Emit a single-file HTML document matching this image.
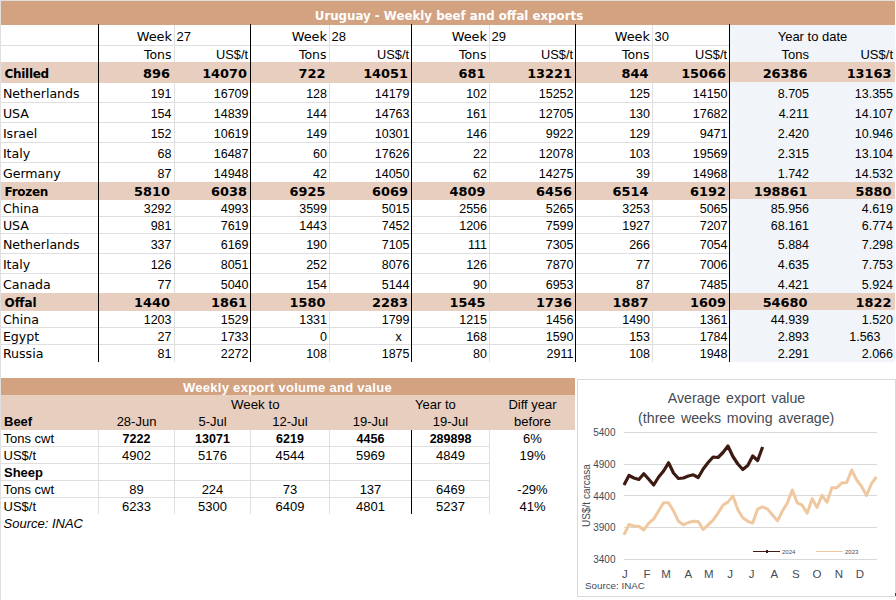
<!DOCTYPE html>
<html><head><meta charset="utf-8"><title>Uruguay - Weekly beef and offal exports</title>
<style>html,body{margin:0;padding:0;background:#fff;}svg{display:block;}</style></head>
<body><svg width="896" height="600" viewBox="0 0 896 600" shape-rendering="crispEdges">
<rect x="0" y="0" width="896" height="600" fill="#fff"/>
<rect x="0" y="0" width="1" height="600" fill="#DFDFDF"/>
<rect x="0" y="0" width="896" height="1" fill="#DFDFDF"/>
<rect x="1" y="1" width="894" height="24" fill="#D2A281"/>
<text x="449" y="20" text-anchor="middle" fill="#fff" style="font-family:'DejaVu Sans', sans-serif;font-size:11.8px;font-weight:700;">Uruguay - Weekly beef and offal exports</text>
<rect x="730" y="25" width="165" height="337" fill="#F1F5FA"/>
<rect x="1" y="45" width="728" height="1" fill="#DFDFDF"/>
<rect x="1" y="102" width="728" height="1" fill="#DFDFDF"/>
<rect x="1" y="122" width="728" height="1" fill="#DFDFDF"/>
<rect x="1" y="142" width="728" height="1" fill="#DFDFDF"/>
<rect x="1" y="162" width="728" height="1" fill="#DFDFDF"/>
<rect x="1" y="216" width="728" height="1" fill="#DFDFDF"/>
<rect x="1" y="233" width="728" height="1" fill="#DFDFDF"/>
<rect x="1" y="253" width="728" height="1" fill="#DFDFDF"/>
<rect x="1" y="273" width="728" height="1" fill="#DFDFDF"/>
<rect x="1" y="327" width="728" height="1" fill="#DFDFDF"/>
<rect x="1" y="344" width="728" height="1" fill="#DFDFDF"/>
<rect x="174" y="25" width="1" height="337" fill="#DFDFDF"/>
<rect x="329" y="25" width="1" height="337" fill="#DFDFDF"/>
<rect x="489" y="25" width="1" height="337" fill="#DFDFDF"/>
<rect x="652" y="25" width="1" height="337" fill="#DFDFDF"/>
<rect x="1" y="62" width="729" height="21" fill="#E8CEBF"/>
<rect x="730" y="62" width="165" height="20" fill="#E8CEBF"/>
<rect x="1" y="182" width="729" height="18" fill="#E8CEBF"/>
<rect x="730" y="182" width="165" height="17" fill="#E8CEBF"/>
<rect x="1" y="293" width="729" height="18" fill="#E8CEBF"/>
<rect x="730" y="293" width="165" height="17" fill="#E8CEBF"/>
<rect x="98" y="24" width="1" height="338" fill="#000"/>
<rect x="250" y="24" width="1" height="338" fill="#000"/>
<rect x="411" y="24" width="1" height="338" fill="#000"/>
<rect x="575" y="24" width="1" height="338" fill="#000"/>
<rect x="729" y="24" width="1" height="338" fill="#000"/>
<text x="172" y="41" text-anchor="end" fill="#000" style="font-family:'DejaVu Sans', sans-serif;font-size:12.9px;">Week</text>
<text x="176.6" y="41" text-anchor="start" fill="#000" style="font-family:'Liberation Sans', Arial, sans-serif;font-size:13px;">27</text>
<text x="171.5" y="59" text-anchor="end" fill="#000" style="font-family:'DejaVu Sans', sans-serif;font-size:12.5px;">Tons</text>
<text x="248" y="59" text-anchor="end" fill="#000" style="font-family:'Liberation Sans', Arial, sans-serif;font-size:12.8px;">US$/t</text>
<text x="327" y="41" text-anchor="end" fill="#000" style="font-family:'DejaVu Sans', sans-serif;font-size:12.9px;">Week</text>
<text x="331.6" y="41" text-anchor="start" fill="#000" style="font-family:'Liberation Sans', Arial, sans-serif;font-size:13px;">28</text>
<text x="326.5" y="59" text-anchor="end" fill="#000" style="font-family:'DejaVu Sans', sans-serif;font-size:12.5px;">Tons</text>
<text x="409" y="59" text-anchor="end" fill="#000" style="font-family:'Liberation Sans', Arial, sans-serif;font-size:12.8px;">US$/t</text>
<text x="487" y="41" text-anchor="end" fill="#000" style="font-family:'DejaVu Sans', sans-serif;font-size:12.9px;">Week</text>
<text x="491.6" y="41" text-anchor="start" fill="#000" style="font-family:'Liberation Sans', Arial, sans-serif;font-size:13px;">29</text>
<text x="486.5" y="59" text-anchor="end" fill="#000" style="font-family:'DejaVu Sans', sans-serif;font-size:12.5px;">Tons</text>
<text x="573" y="59" text-anchor="end" fill="#000" style="font-family:'Liberation Sans', Arial, sans-serif;font-size:12.8px;">US$/t</text>
<text x="650" y="41" text-anchor="end" fill="#000" style="font-family:'DejaVu Sans', sans-serif;font-size:12.9px;">Week</text>
<text x="654.6" y="41" text-anchor="start" fill="#000" style="font-family:'Liberation Sans', Arial, sans-serif;font-size:13px;">30</text>
<text x="649.5" y="59" text-anchor="end" fill="#000" style="font-family:'DejaVu Sans', sans-serif;font-size:12.5px;">Tons</text>
<text x="727" y="59" text-anchor="end" fill="#000" style="font-family:'Liberation Sans', Arial, sans-serif;font-size:12.8px;">US$/t</text>
<text x="812.5" y="41" text-anchor="middle" fill="#000" style="font-family:'Liberation Sans', Arial, sans-serif;font-size:13px;">Year to date</text>
<text x="809" y="59" text-anchor="end" fill="#000" style="font-family:'Liberation Sans', Arial, sans-serif;font-size:13px;">Tons</text>
<text x="893" y="59" text-anchor="end" fill="#000" style="font-family:'Liberation Sans', Arial, sans-serif;font-size:13px;">US$/t</text>
<text x="4.5" y="78" text-anchor="start" fill="#000" style="font-family:'DejaVu Sans', sans-serif;font-size:12px;font-weight:700;letter-spacing:-0.3px;">Chilled</text>
<text x="170.0" y="78" text-anchor="end" fill="#000" style="font-family:'DejaVu Sans', sans-serif;font-size:12.9px;font-weight:700;">896</text>
<text x="247.0" y="78" text-anchor="end" fill="#000" style="font-family:'DejaVu Sans', sans-serif;font-size:12.9px;font-weight:700;">14070</text>
<text x="325.5" y="78" text-anchor="end" fill="#000" style="font-family:'DejaVu Sans', sans-serif;font-size:12.9px;font-weight:700;">722</text>
<text x="408.0" y="78" text-anchor="end" fill="#000" style="font-family:'DejaVu Sans', sans-serif;font-size:12.9px;font-weight:700;">14051</text>
<text x="485.5" y="78" text-anchor="end" fill="#000" style="font-family:'DejaVu Sans', sans-serif;font-size:12.9px;font-weight:700;">681</text>
<text x="572.0" y="78" text-anchor="end" fill="#000" style="font-family:'DejaVu Sans', sans-serif;font-size:12.9px;font-weight:700;">13221</text>
<text x="648.5" y="78" text-anchor="end" fill="#000" style="font-family:'DejaVu Sans', sans-serif;font-size:12.9px;font-weight:700;">844</text>
<text x="726.0" y="78" text-anchor="end" fill="#000" style="font-family:'DejaVu Sans', sans-serif;font-size:12.9px;font-weight:700;">15066</text>
<text x="807.5" y="78" text-anchor="end" fill="#000" style="font-family:'DejaVu Sans', sans-serif;font-size:12.9px;font-weight:700;">26386</text>
<text x="891.5" y="78" text-anchor="end" fill="#000" style="font-family:'DejaVu Sans', sans-serif;font-size:12.9px;font-weight:700;">13163</text>
<text x="2.9" y="98" text-anchor="start" fill="#000" style="font-family:'DejaVu Sans', sans-serif;font-size:12.6px;">Netherlands</text>
<text x="171.5" y="98" text-anchor="end" fill="#000" style="font-family:'Liberation Sans', Arial, sans-serif;font-size:12.5px;">191</text>
<text x="248.5" y="98" text-anchor="end" fill="#000" style="font-family:'Liberation Sans', Arial, sans-serif;font-size:12.5px;">16709</text>
<text x="327" y="98" text-anchor="end" fill="#000" style="font-family:'Liberation Sans', Arial, sans-serif;font-size:12.5px;">128</text>
<text x="409.5" y="98" text-anchor="end" fill="#000" style="font-family:'Liberation Sans', Arial, sans-serif;font-size:12.5px;">14179</text>
<text x="487" y="98" text-anchor="end" fill="#000" style="font-family:'Liberation Sans', Arial, sans-serif;font-size:12.5px;">102</text>
<text x="573.5" y="98" text-anchor="end" fill="#000" style="font-family:'Liberation Sans', Arial, sans-serif;font-size:12.5px;">15252</text>
<text x="650" y="98" text-anchor="end" fill="#000" style="font-family:'Liberation Sans', Arial, sans-serif;font-size:12.5px;">125</text>
<text x="727.5" y="98" text-anchor="end" fill="#000" style="font-family:'Liberation Sans', Arial, sans-serif;font-size:12.5px;">14150</text>
<text x="809" y="98" text-anchor="end" fill="#000" style="font-family:'Liberation Sans', Arial, sans-serif;font-size:12.5px;">8.705</text>
<text x="893" y="98" text-anchor="end" fill="#000" style="font-family:'Liberation Sans', Arial, sans-serif;font-size:12.5px;">13.355</text>
<text x="2.9" y="118" text-anchor="start" fill="#000" style="font-family:'DejaVu Sans', sans-serif;font-size:12.6px;">USA</text>
<text x="171.5" y="118" text-anchor="end" fill="#000" style="font-family:'Liberation Sans', Arial, sans-serif;font-size:12.5px;">154</text>
<text x="248.5" y="118" text-anchor="end" fill="#000" style="font-family:'Liberation Sans', Arial, sans-serif;font-size:12.5px;">14839</text>
<text x="327" y="118" text-anchor="end" fill="#000" style="font-family:'Liberation Sans', Arial, sans-serif;font-size:12.5px;">144</text>
<text x="409.5" y="118" text-anchor="end" fill="#000" style="font-family:'Liberation Sans', Arial, sans-serif;font-size:12.5px;">14763</text>
<text x="487" y="118" text-anchor="end" fill="#000" style="font-family:'Liberation Sans', Arial, sans-serif;font-size:12.5px;">161</text>
<text x="573.5" y="118" text-anchor="end" fill="#000" style="font-family:'Liberation Sans', Arial, sans-serif;font-size:12.5px;">12705</text>
<text x="650" y="118" text-anchor="end" fill="#000" style="font-family:'Liberation Sans', Arial, sans-serif;font-size:12.5px;">130</text>
<text x="727.5" y="118" text-anchor="end" fill="#000" style="font-family:'Liberation Sans', Arial, sans-serif;font-size:12.5px;">17682</text>
<text x="809" y="118" text-anchor="end" fill="#000" style="font-family:'Liberation Sans', Arial, sans-serif;font-size:12.5px;">4.211</text>
<text x="893" y="118" text-anchor="end" fill="#000" style="font-family:'Liberation Sans', Arial, sans-serif;font-size:12.5px;">14.107</text>
<text x="2.9" y="138" text-anchor="start" fill="#000" style="font-family:'DejaVu Sans', sans-serif;font-size:12.6px;">Israel</text>
<text x="171.5" y="138" text-anchor="end" fill="#000" style="font-family:'Liberation Sans', Arial, sans-serif;font-size:12.5px;">152</text>
<text x="248.5" y="138" text-anchor="end" fill="#000" style="font-family:'Liberation Sans', Arial, sans-serif;font-size:12.5px;">10619</text>
<text x="327" y="138" text-anchor="end" fill="#000" style="font-family:'Liberation Sans', Arial, sans-serif;font-size:12.5px;">149</text>
<text x="409.5" y="138" text-anchor="end" fill="#000" style="font-family:'Liberation Sans', Arial, sans-serif;font-size:12.5px;">10301</text>
<text x="487" y="138" text-anchor="end" fill="#000" style="font-family:'Liberation Sans', Arial, sans-serif;font-size:12.5px;">146</text>
<text x="573.5" y="138" text-anchor="end" fill="#000" style="font-family:'Liberation Sans', Arial, sans-serif;font-size:12.5px;">9922</text>
<text x="650" y="138" text-anchor="end" fill="#000" style="font-family:'Liberation Sans', Arial, sans-serif;font-size:12.5px;">129</text>
<text x="727.5" y="138" text-anchor="end" fill="#000" style="font-family:'Liberation Sans', Arial, sans-serif;font-size:12.5px;">9471</text>
<text x="809" y="138" text-anchor="end" fill="#000" style="font-family:'Liberation Sans', Arial, sans-serif;font-size:12.5px;">2.420</text>
<text x="893" y="138" text-anchor="end" fill="#000" style="font-family:'Liberation Sans', Arial, sans-serif;font-size:12.5px;">10.946</text>
<text x="2.9" y="158" text-anchor="start" fill="#000" style="font-family:'DejaVu Sans', sans-serif;font-size:12.6px;">Italy</text>
<text x="171.5" y="158" text-anchor="end" fill="#000" style="font-family:'Liberation Sans', Arial, sans-serif;font-size:12.5px;">68</text>
<text x="248.5" y="158" text-anchor="end" fill="#000" style="font-family:'Liberation Sans', Arial, sans-serif;font-size:12.5px;">16487</text>
<text x="327" y="158" text-anchor="end" fill="#000" style="font-family:'Liberation Sans', Arial, sans-serif;font-size:12.5px;">60</text>
<text x="409.5" y="158" text-anchor="end" fill="#000" style="font-family:'Liberation Sans', Arial, sans-serif;font-size:12.5px;">17626</text>
<text x="487" y="158" text-anchor="end" fill="#000" style="font-family:'Liberation Sans', Arial, sans-serif;font-size:12.5px;">22</text>
<text x="573.5" y="158" text-anchor="end" fill="#000" style="font-family:'Liberation Sans', Arial, sans-serif;font-size:12.5px;">12078</text>
<text x="650" y="158" text-anchor="end" fill="#000" style="font-family:'Liberation Sans', Arial, sans-serif;font-size:12.5px;">103</text>
<text x="727.5" y="158" text-anchor="end" fill="#000" style="font-family:'Liberation Sans', Arial, sans-serif;font-size:12.5px;">19569</text>
<text x="809" y="158" text-anchor="end" fill="#000" style="font-family:'Liberation Sans', Arial, sans-serif;font-size:12.5px;">2.315</text>
<text x="893" y="158" text-anchor="end" fill="#000" style="font-family:'Liberation Sans', Arial, sans-serif;font-size:12.5px;">13.104</text>
<text x="2.9" y="178" text-anchor="start" fill="#000" style="font-family:'DejaVu Sans', sans-serif;font-size:12.6px;">Germany</text>
<text x="171.5" y="178" text-anchor="end" fill="#000" style="font-family:'Liberation Sans', Arial, sans-serif;font-size:12.5px;">87</text>
<text x="248.5" y="178" text-anchor="end" fill="#000" style="font-family:'Liberation Sans', Arial, sans-serif;font-size:12.5px;">14948</text>
<text x="327" y="178" text-anchor="end" fill="#000" style="font-family:'Liberation Sans', Arial, sans-serif;font-size:12.5px;">42</text>
<text x="409.5" y="178" text-anchor="end" fill="#000" style="font-family:'Liberation Sans', Arial, sans-serif;font-size:12.5px;">14050</text>
<text x="487" y="178" text-anchor="end" fill="#000" style="font-family:'Liberation Sans', Arial, sans-serif;font-size:12.5px;">62</text>
<text x="573.5" y="178" text-anchor="end" fill="#000" style="font-family:'Liberation Sans', Arial, sans-serif;font-size:12.5px;">14275</text>
<text x="650" y="178" text-anchor="end" fill="#000" style="font-family:'Liberation Sans', Arial, sans-serif;font-size:12.5px;">39</text>
<text x="727.5" y="178" text-anchor="end" fill="#000" style="font-family:'Liberation Sans', Arial, sans-serif;font-size:12.5px;">14968</text>
<text x="809" y="178" text-anchor="end" fill="#000" style="font-family:'Liberation Sans', Arial, sans-serif;font-size:12.5px;">1.742</text>
<text x="893" y="178" text-anchor="end" fill="#000" style="font-family:'Liberation Sans', Arial, sans-serif;font-size:12.5px;">14.532</text>
<text x="4.5" y="196" text-anchor="start" fill="#000" style="font-family:'DejaVu Sans', sans-serif;font-size:12px;font-weight:700;letter-spacing:-0.28px;">Frozen</text>
<text x="170.0" y="196" text-anchor="end" fill="#000" style="font-family:'DejaVu Sans', sans-serif;font-size:12.9px;font-weight:700;">5810</text>
<text x="247.0" y="196" text-anchor="end" fill="#000" style="font-family:'DejaVu Sans', sans-serif;font-size:12.9px;font-weight:700;">6038</text>
<text x="325.5" y="196" text-anchor="end" fill="#000" style="font-family:'DejaVu Sans', sans-serif;font-size:12.9px;font-weight:700;">6925</text>
<text x="408.0" y="196" text-anchor="end" fill="#000" style="font-family:'DejaVu Sans', sans-serif;font-size:12.9px;font-weight:700;">6069</text>
<text x="485.5" y="196" text-anchor="end" fill="#000" style="font-family:'DejaVu Sans', sans-serif;font-size:12.9px;font-weight:700;">4809</text>
<text x="572.0" y="196" text-anchor="end" fill="#000" style="font-family:'DejaVu Sans', sans-serif;font-size:12.9px;font-weight:700;">6456</text>
<text x="648.5" y="196" text-anchor="end" fill="#000" style="font-family:'DejaVu Sans', sans-serif;font-size:12.9px;font-weight:700;">6514</text>
<text x="726.0" y="196" text-anchor="end" fill="#000" style="font-family:'DejaVu Sans', sans-serif;font-size:12.9px;font-weight:700;">6192</text>
<text x="807.5" y="196" text-anchor="end" fill="#000" style="font-family:'DejaVu Sans', sans-serif;font-size:12.9px;font-weight:700;">198861</text>
<text x="891.5" y="196" text-anchor="end" fill="#000" style="font-family:'DejaVu Sans', sans-serif;font-size:12.9px;font-weight:700;">5880</text>
<text x="2.9" y="213" text-anchor="start" fill="#000" style="font-family:'DejaVu Sans', sans-serif;font-size:12.6px;">China</text>
<text x="171.5" y="213" text-anchor="end" fill="#000" style="font-family:'Liberation Sans', Arial, sans-serif;font-size:12.5px;">3292</text>
<text x="248.5" y="213" text-anchor="end" fill="#000" style="font-family:'Liberation Sans', Arial, sans-serif;font-size:12.5px;">4993</text>
<text x="327" y="213" text-anchor="end" fill="#000" style="font-family:'Liberation Sans', Arial, sans-serif;font-size:12.5px;">3599</text>
<text x="409.5" y="213" text-anchor="end" fill="#000" style="font-family:'Liberation Sans', Arial, sans-serif;font-size:12.5px;">5015</text>
<text x="487" y="213" text-anchor="end" fill="#000" style="font-family:'Liberation Sans', Arial, sans-serif;font-size:12.5px;">2556</text>
<text x="573.5" y="213" text-anchor="end" fill="#000" style="font-family:'Liberation Sans', Arial, sans-serif;font-size:12.5px;">5265</text>
<text x="650" y="213" text-anchor="end" fill="#000" style="font-family:'Liberation Sans', Arial, sans-serif;font-size:12.5px;">3253</text>
<text x="727.5" y="213" text-anchor="end" fill="#000" style="font-family:'Liberation Sans', Arial, sans-serif;font-size:12.5px;">5065</text>
<text x="809" y="213" text-anchor="end" fill="#000" style="font-family:'Liberation Sans', Arial, sans-serif;font-size:12.5px;">85.956</text>
<text x="893" y="213" text-anchor="end" fill="#000" style="font-family:'Liberation Sans', Arial, sans-serif;font-size:12.5px;">4.619</text>
<text x="2.9" y="230" text-anchor="start" fill="#000" style="font-family:'DejaVu Sans', sans-serif;font-size:12.6px;">USA</text>
<text x="171.5" y="230" text-anchor="end" fill="#000" style="font-family:'Liberation Sans', Arial, sans-serif;font-size:12.5px;">981</text>
<text x="248.5" y="230" text-anchor="end" fill="#000" style="font-family:'Liberation Sans', Arial, sans-serif;font-size:12.5px;">7619</text>
<text x="327" y="230" text-anchor="end" fill="#000" style="font-family:'Liberation Sans', Arial, sans-serif;font-size:12.5px;">1443</text>
<text x="409.5" y="230" text-anchor="end" fill="#000" style="font-family:'Liberation Sans', Arial, sans-serif;font-size:12.5px;">7452</text>
<text x="487" y="230" text-anchor="end" fill="#000" style="font-family:'Liberation Sans', Arial, sans-serif;font-size:12.5px;">1206</text>
<text x="573.5" y="230" text-anchor="end" fill="#000" style="font-family:'Liberation Sans', Arial, sans-serif;font-size:12.5px;">7599</text>
<text x="650" y="230" text-anchor="end" fill="#000" style="font-family:'Liberation Sans', Arial, sans-serif;font-size:12.5px;">1927</text>
<text x="727.5" y="230" text-anchor="end" fill="#000" style="font-family:'Liberation Sans', Arial, sans-serif;font-size:12.5px;">7207</text>
<text x="809" y="230" text-anchor="end" fill="#000" style="font-family:'Liberation Sans', Arial, sans-serif;font-size:12.5px;">68.161</text>
<text x="893" y="230" text-anchor="end" fill="#000" style="font-family:'Liberation Sans', Arial, sans-serif;font-size:12.5px;">6.774</text>
<text x="2.9" y="249" text-anchor="start" fill="#000" style="font-family:'DejaVu Sans', sans-serif;font-size:12.6px;">Netherlands</text>
<text x="171.5" y="249" text-anchor="end" fill="#000" style="font-family:'Liberation Sans', Arial, sans-serif;font-size:12.5px;">337</text>
<text x="248.5" y="249" text-anchor="end" fill="#000" style="font-family:'Liberation Sans', Arial, sans-serif;font-size:12.5px;">6169</text>
<text x="327" y="249" text-anchor="end" fill="#000" style="font-family:'Liberation Sans', Arial, sans-serif;font-size:12.5px;">190</text>
<text x="409.5" y="249" text-anchor="end" fill="#000" style="font-family:'Liberation Sans', Arial, sans-serif;font-size:12.5px;">7105</text>
<text x="487" y="249" text-anchor="end" fill="#000" style="font-family:'Liberation Sans', Arial, sans-serif;font-size:12.5px;">111</text>
<text x="573.5" y="249" text-anchor="end" fill="#000" style="font-family:'Liberation Sans', Arial, sans-serif;font-size:12.5px;">7305</text>
<text x="650" y="249" text-anchor="end" fill="#000" style="font-family:'Liberation Sans', Arial, sans-serif;font-size:12.5px;">266</text>
<text x="727.5" y="249" text-anchor="end" fill="#000" style="font-family:'Liberation Sans', Arial, sans-serif;font-size:12.5px;">7054</text>
<text x="809" y="249" text-anchor="end" fill="#000" style="font-family:'Liberation Sans', Arial, sans-serif;font-size:12.5px;">5.884</text>
<text x="893" y="249" text-anchor="end" fill="#000" style="font-family:'Liberation Sans', Arial, sans-serif;font-size:12.5px;">7.298</text>
<text x="2.9" y="269" text-anchor="start" fill="#000" style="font-family:'DejaVu Sans', sans-serif;font-size:12.6px;">Italy</text>
<text x="171.5" y="269" text-anchor="end" fill="#000" style="font-family:'Liberation Sans', Arial, sans-serif;font-size:12.5px;">126</text>
<text x="248.5" y="269" text-anchor="end" fill="#000" style="font-family:'Liberation Sans', Arial, sans-serif;font-size:12.5px;">8051</text>
<text x="327" y="269" text-anchor="end" fill="#000" style="font-family:'Liberation Sans', Arial, sans-serif;font-size:12.5px;">252</text>
<text x="409.5" y="269" text-anchor="end" fill="#000" style="font-family:'Liberation Sans', Arial, sans-serif;font-size:12.5px;">8076</text>
<text x="487" y="269" text-anchor="end" fill="#000" style="font-family:'Liberation Sans', Arial, sans-serif;font-size:12.5px;">126</text>
<text x="573.5" y="269" text-anchor="end" fill="#000" style="font-family:'Liberation Sans', Arial, sans-serif;font-size:12.5px;">7870</text>
<text x="650" y="269" text-anchor="end" fill="#000" style="font-family:'Liberation Sans', Arial, sans-serif;font-size:12.5px;">77</text>
<text x="727.5" y="269" text-anchor="end" fill="#000" style="font-family:'Liberation Sans', Arial, sans-serif;font-size:12.5px;">7006</text>
<text x="809" y="269" text-anchor="end" fill="#000" style="font-family:'Liberation Sans', Arial, sans-serif;font-size:12.5px;">4.635</text>
<text x="893" y="269" text-anchor="end" fill="#000" style="font-family:'Liberation Sans', Arial, sans-serif;font-size:12.5px;">7.753</text>
<text x="2.9" y="289" text-anchor="start" fill="#000" style="font-family:'DejaVu Sans', sans-serif;font-size:12.6px;">Canada</text>
<text x="171.5" y="289" text-anchor="end" fill="#000" style="font-family:'Liberation Sans', Arial, sans-serif;font-size:12.5px;">77</text>
<text x="248.5" y="289" text-anchor="end" fill="#000" style="font-family:'Liberation Sans', Arial, sans-serif;font-size:12.5px;">5040</text>
<text x="327" y="289" text-anchor="end" fill="#000" style="font-family:'Liberation Sans', Arial, sans-serif;font-size:12.5px;">154</text>
<text x="409.5" y="289" text-anchor="end" fill="#000" style="font-family:'Liberation Sans', Arial, sans-serif;font-size:12.5px;">5144</text>
<text x="487" y="289" text-anchor="end" fill="#000" style="font-family:'Liberation Sans', Arial, sans-serif;font-size:12.5px;">90</text>
<text x="573.5" y="289" text-anchor="end" fill="#000" style="font-family:'Liberation Sans', Arial, sans-serif;font-size:12.5px;">6953</text>
<text x="650" y="289" text-anchor="end" fill="#000" style="font-family:'Liberation Sans', Arial, sans-serif;font-size:12.5px;">87</text>
<text x="727.5" y="289" text-anchor="end" fill="#000" style="font-family:'Liberation Sans', Arial, sans-serif;font-size:12.5px;">7485</text>
<text x="809" y="289" text-anchor="end" fill="#000" style="font-family:'Liberation Sans', Arial, sans-serif;font-size:12.5px;">4.421</text>
<text x="893" y="289" text-anchor="end" fill="#000" style="font-family:'Liberation Sans', Arial, sans-serif;font-size:12.5px;">5.924</text>
<text x="4.5" y="307" text-anchor="start" fill="#000" style="font-family:'DejaVu Sans', sans-serif;font-size:12px;font-weight:700;letter-spacing:0px;">Offal</text>
<text x="170.0" y="307" text-anchor="end" fill="#000" style="font-family:'DejaVu Sans', sans-serif;font-size:12.9px;font-weight:700;">1440</text>
<text x="247.0" y="307" text-anchor="end" fill="#000" style="font-family:'DejaVu Sans', sans-serif;font-size:12.9px;font-weight:700;">1861</text>
<text x="325.5" y="307" text-anchor="end" fill="#000" style="font-family:'DejaVu Sans', sans-serif;font-size:12.9px;font-weight:700;">1580</text>
<text x="408.0" y="307" text-anchor="end" fill="#000" style="font-family:'DejaVu Sans', sans-serif;font-size:12.9px;font-weight:700;">2283</text>
<text x="485.5" y="307" text-anchor="end" fill="#000" style="font-family:'DejaVu Sans', sans-serif;font-size:12.9px;font-weight:700;">1545</text>
<text x="572.0" y="307" text-anchor="end" fill="#000" style="font-family:'DejaVu Sans', sans-serif;font-size:12.9px;font-weight:700;">1736</text>
<text x="648.5" y="307" text-anchor="end" fill="#000" style="font-family:'DejaVu Sans', sans-serif;font-size:12.9px;font-weight:700;">1887</text>
<text x="726.0" y="307" text-anchor="end" fill="#000" style="font-family:'DejaVu Sans', sans-serif;font-size:12.9px;font-weight:700;">1609</text>
<text x="807.5" y="307" text-anchor="end" fill="#000" style="font-family:'DejaVu Sans', sans-serif;font-size:12.9px;font-weight:700;">54680</text>
<text x="891.5" y="307" text-anchor="end" fill="#000" style="font-family:'DejaVu Sans', sans-serif;font-size:12.9px;font-weight:700;">1822</text>
<text x="2.9" y="324" text-anchor="start" fill="#000" style="font-family:'DejaVu Sans', sans-serif;font-size:12.6px;">China</text>
<text x="171.5" y="324" text-anchor="end" fill="#000" style="font-family:'Liberation Sans', Arial, sans-serif;font-size:12.5px;">1203</text>
<text x="248.5" y="324" text-anchor="end" fill="#000" style="font-family:'Liberation Sans', Arial, sans-serif;font-size:12.5px;">1529</text>
<text x="327" y="324" text-anchor="end" fill="#000" style="font-family:'Liberation Sans', Arial, sans-serif;font-size:12.5px;">1331</text>
<text x="409.5" y="324" text-anchor="end" fill="#000" style="font-family:'Liberation Sans', Arial, sans-serif;font-size:12.5px;">1799</text>
<text x="487" y="324" text-anchor="end" fill="#000" style="font-family:'Liberation Sans', Arial, sans-serif;font-size:12.5px;">1215</text>
<text x="573.5" y="324" text-anchor="end" fill="#000" style="font-family:'Liberation Sans', Arial, sans-serif;font-size:12.5px;">1456</text>
<text x="650" y="324" text-anchor="end" fill="#000" style="font-family:'Liberation Sans', Arial, sans-serif;font-size:12.5px;">1490</text>
<text x="727.5" y="324" text-anchor="end" fill="#000" style="font-family:'Liberation Sans', Arial, sans-serif;font-size:12.5px;">1361</text>
<text x="809" y="324" text-anchor="end" fill="#000" style="font-family:'Liberation Sans', Arial, sans-serif;font-size:12.5px;">44.939</text>
<text x="893" y="324" text-anchor="end" fill="#000" style="font-family:'Liberation Sans', Arial, sans-serif;font-size:12.5px;">1.520</text>
<text x="2.9" y="341" text-anchor="start" fill="#000" style="font-family:'DejaVu Sans', sans-serif;font-size:12.6px;">Egypt</text>
<text x="171.5" y="341" text-anchor="end" fill="#000" style="font-family:'Liberation Sans', Arial, sans-serif;font-size:12.5px;">27</text>
<text x="248.5" y="341" text-anchor="end" fill="#000" style="font-family:'Liberation Sans', Arial, sans-serif;font-size:12.5px;">1733</text>
<text x="327" y="341" text-anchor="end" fill="#000" style="font-family:'Liberation Sans', Arial, sans-serif;font-size:12.5px;">0</text>
<text x="401.8" y="341" text-anchor="end" fill="#000" style="font-family:'Liberation Sans', Arial, sans-serif;font-size:12.5px;">x</text>
<text x="487" y="341" text-anchor="end" fill="#000" style="font-family:'Liberation Sans', Arial, sans-serif;font-size:12.5px;">168</text>
<text x="573.5" y="341" text-anchor="end" fill="#000" style="font-family:'Liberation Sans', Arial, sans-serif;font-size:12.5px;">1590</text>
<text x="650" y="341" text-anchor="end" fill="#000" style="font-family:'Liberation Sans', Arial, sans-serif;font-size:12.5px;">153</text>
<text x="727.5" y="341" text-anchor="end" fill="#000" style="font-family:'Liberation Sans', Arial, sans-serif;font-size:12.5px;">1784</text>
<text x="809" y="341" text-anchor="end" fill="#000" style="font-family:'Liberation Sans', Arial, sans-serif;font-size:12.5px;">2.893</text>
<text x="880.5" y="341" text-anchor="end" fill="#000" style="font-family:'Liberation Sans', Arial, sans-serif;font-size:12.5px;">1.563</text>
<text x="2.9" y="358" text-anchor="start" fill="#000" style="font-family:'DejaVu Sans', sans-serif;font-size:12.6px;">Russia</text>
<text x="171.5" y="358" text-anchor="end" fill="#000" style="font-family:'Liberation Sans', Arial, sans-serif;font-size:12.5px;">81</text>
<text x="248.5" y="358" text-anchor="end" fill="#000" style="font-family:'Liberation Sans', Arial, sans-serif;font-size:12.5px;">2272</text>
<text x="327" y="358" text-anchor="end" fill="#000" style="font-family:'Liberation Sans', Arial, sans-serif;font-size:12.5px;">108</text>
<text x="409.5" y="358" text-anchor="end" fill="#000" style="font-family:'Liberation Sans', Arial, sans-serif;font-size:12.5px;">1875</text>
<text x="487" y="358" text-anchor="end" fill="#000" style="font-family:'Liberation Sans', Arial, sans-serif;font-size:12.5px;">80</text>
<text x="573.5" y="358" text-anchor="end" fill="#000" style="font-family:'Liberation Sans', Arial, sans-serif;font-size:12.5px;">2911</text>
<text x="650" y="358" text-anchor="end" fill="#000" style="font-family:'Liberation Sans', Arial, sans-serif;font-size:12.5px;">108</text>
<text x="727.5" y="358" text-anchor="end" fill="#000" style="font-family:'Liberation Sans', Arial, sans-serif;font-size:12.5px;">1948</text>
<text x="809" y="358" text-anchor="end" fill="#000" style="font-family:'Liberation Sans', Arial, sans-serif;font-size:12.5px;">2.291</text>
<text x="893" y="358" text-anchor="end" fill="#000" style="font-family:'Liberation Sans', Arial, sans-serif;font-size:12.5px;">2.066</text>
<rect x="1" y="378" width="574" height="17" fill="#D2A281"/>
<text x="287.5" y="392" text-anchor="middle" fill="#fff" style="font-family:'Liberation Sans', Arial, sans-serif;font-size:13px;font-weight:700;letter-spacing:0.28px;">Weekly export volume and value</text>
<rect x="1" y="395" width="574" height="35" fill="#E8CEBF"/>
<rect x="1" y="446" width="488" height="1" fill="#DFDFDF"/>
<rect x="1" y="463" width="488" height="1" fill="#DFDFDF"/>
<rect x="1" y="480" width="488" height="1" fill="#DFDFDF"/>
<rect x="1" y="497" width="488" height="1" fill="#DFDFDF"/>
<rect x="98" y="430" width="1" height="84" fill="#DFDFDF"/>
<rect x="174" y="430" width="1" height="84" fill="#DFDFDF"/>
<rect x="250" y="430" width="1" height="84" fill="#DFDFDF"/>
<rect x="329" y="430" width="1" height="84" fill="#DFDFDF"/>
<rect x="489" y="430" width="1" height="84" fill="#DFDFDF"/>
<rect x="411" y="430" width="1" height="84" fill="#000"/>
<text x="231" y="409" text-anchor="start" fill="#000" style="font-family:'Liberation Sans', Arial, sans-serif;font-size:13.3px;">Week to</text>
<text x="415" y="409" text-anchor="start" fill="#000" style="font-family:'Liberation Sans', Arial, sans-serif;font-size:13px;">Year to</text>
<text x="532.5" y="409" text-anchor="middle" fill="#000" style="font-family:'Liberation Sans', Arial, sans-serif;font-size:13px;">Diff year</text>
<text x="4" y="426" text-anchor="start" fill="#000" style="font-family:'Liberation Sans', Arial, sans-serif;font-size:13px;font-weight:700;">Beef</text>
<text x="136.5" y="426" text-anchor="middle" fill="#000" style="font-family:'Liberation Sans', Arial, sans-serif;font-size:13px;">28-Jun</text>
<text x="212.5" y="426" text-anchor="middle" fill="#000" style="font-family:'Liberation Sans', Arial, sans-serif;font-size:13px;">5-Jul</text>
<text x="290" y="426" text-anchor="middle" fill="#000" style="font-family:'Liberation Sans', Arial, sans-serif;font-size:13px;">12-Jul</text>
<text x="370.5" y="426" text-anchor="middle" fill="#000" style="font-family:'Liberation Sans', Arial, sans-serif;font-size:13px;">19-Jul</text>
<text x="450.5" y="426" text-anchor="middle" fill="#000" style="font-family:'Liberation Sans', Arial, sans-serif;font-size:13px;">19-Jul</text>
<text x="532.5" y="426" text-anchor="middle" fill="#000" style="font-family:'Liberation Sans', Arial, sans-serif;font-size:13px;">before</text>
<text x="3.5" y="442.5" text-anchor="start" fill="#000" style="font-family:'Liberation Sans', Arial, sans-serif;font-size:13px;">Tons cwt</text>
<text x="136.5" y="442.5" text-anchor="middle" fill="#000" style="font-family:'Liberation Sans', Arial, sans-serif;font-size:12.5px;font-weight:700;">7222</text>
<text x="212.5" y="442.5" text-anchor="middle" fill="#000" style="font-family:'Liberation Sans', Arial, sans-serif;font-size:12.5px;font-weight:700;">13071</text>
<text x="290" y="442.5" text-anchor="middle" fill="#000" style="font-family:'Liberation Sans', Arial, sans-serif;font-size:12.5px;font-weight:700;">6219</text>
<text x="370.5" y="442.5" text-anchor="middle" fill="#000" style="font-family:'Liberation Sans', Arial, sans-serif;font-size:12.5px;font-weight:700;">4456</text>
<text x="450.5" y="442.5" text-anchor="middle" fill="#000" style="font-family:'Liberation Sans', Arial, sans-serif;font-size:12.5px;font-weight:700;">289898</text>
<text x="532.5" y="442.5" text-anchor="middle" fill="#000" style="font-family:'Liberation Sans', Arial, sans-serif;font-size:13px;">6%</text>
<text x="3.5" y="459.5" text-anchor="start" fill="#000" style="font-family:'Liberation Sans', Arial, sans-serif;font-size:13px;">US$/t</text>
<text x="136.5" y="459.5" text-anchor="middle" fill="#000" style="font-family:'Liberation Sans', Arial, sans-serif;font-size:13px;">4902</text>
<text x="212.5" y="459.5" text-anchor="middle" fill="#000" style="font-family:'Liberation Sans', Arial, sans-serif;font-size:13px;">5176</text>
<text x="290" y="459.5" text-anchor="middle" fill="#000" style="font-family:'Liberation Sans', Arial, sans-serif;font-size:13px;">4544</text>
<text x="370.5" y="459.5" text-anchor="middle" fill="#000" style="font-family:'Liberation Sans', Arial, sans-serif;font-size:13px;">5969</text>
<text x="450.5" y="459.5" text-anchor="middle" fill="#000" style="font-family:'Liberation Sans', Arial, sans-serif;font-size:13px;">4849</text>
<text x="532.5" y="459.5" text-anchor="middle" fill="#000" style="font-family:'Liberation Sans', Arial, sans-serif;font-size:13px;">19%</text>
<text x="4" y="476.5" text-anchor="start" fill="#000" style="font-family:'Liberation Sans', Arial, sans-serif;font-size:13px;font-weight:700;">Sheep</text>
<text x="3.5" y="493.5" text-anchor="start" fill="#000" style="font-family:'Liberation Sans', Arial, sans-serif;font-size:13px;">Tons cwt</text>
<text x="136.5" y="493.5" text-anchor="middle" fill="#000" style="font-family:'Liberation Sans', Arial, sans-serif;font-size:13px;">89</text>
<text x="212.5" y="493.5" text-anchor="middle" fill="#000" style="font-family:'Liberation Sans', Arial, sans-serif;font-size:13px;">224</text>
<text x="290" y="493.5" text-anchor="middle" fill="#000" style="font-family:'Liberation Sans', Arial, sans-serif;font-size:13px;">73</text>
<text x="370.5" y="493.5" text-anchor="middle" fill="#000" style="font-family:'Liberation Sans', Arial, sans-serif;font-size:13px;">137</text>
<text x="450.5" y="493.5" text-anchor="middle" fill="#000" style="font-family:'Liberation Sans', Arial, sans-serif;font-size:13px;">6469</text>
<text x="532.5" y="493.5" text-anchor="middle" fill="#000" style="font-family:'Liberation Sans', Arial, sans-serif;font-size:13px;">-29%</text>
<text x="3.5" y="510.5" text-anchor="start" fill="#000" style="font-family:'Liberation Sans', Arial, sans-serif;font-size:13px;">US$/t</text>
<text x="136.5" y="510.5" text-anchor="middle" fill="#000" style="font-family:'Liberation Sans', Arial, sans-serif;font-size:13px;">6233</text>
<text x="212.5" y="510.5" text-anchor="middle" fill="#000" style="font-family:'Liberation Sans', Arial, sans-serif;font-size:13px;">5300</text>
<text x="290" y="510.5" text-anchor="middle" fill="#000" style="font-family:'Liberation Sans', Arial, sans-serif;font-size:13px;">6409</text>
<text x="370.5" y="510.5" text-anchor="middle" fill="#000" style="font-family:'Liberation Sans', Arial, sans-serif;font-size:13px;">4801</text>
<text x="450.5" y="510.5" text-anchor="middle" fill="#000" style="font-family:'Liberation Sans', Arial, sans-serif;font-size:13px;">5237</text>
<text x="532.5" y="510.5" text-anchor="middle" fill="#000" style="font-family:'Liberation Sans', Arial, sans-serif;font-size:13px;">41%</text>
<text x="3.5" y="528" text-anchor="start" fill="#000" style="font-family:'Liberation Sans', Arial, sans-serif;font-size:13px;font-style:italic;">Source: INAC</text>
<rect x="577.5" y="379.5" width="318" height="217" fill="#fff" stroke="#D9D9D9" stroke-width="1"/>
<text x="736.5" y="403" text-anchor="middle" fill="#454B55" style="font-family:'Liberation Sans', Arial, sans-serif;font-size:14.2px;word-spacing:1.8px;">Average export value</text>
<text x="736.2" y="422.5" text-anchor="middle" fill="#454B55" style="font-family:'Liberation Sans', Arial, sans-serif;font-size:14.2px;word-spacing:1.8px;">(three weeks moving average)</text>
<line x1="624" x2="877" y1="432.50" y2="432.50" stroke="#D9D9D9" stroke-width="1"/>
<text x="615.5" y="436.1" text-anchor="end" fill="#454B55" style="font-family:'Liberation Sans', Arial, sans-serif;font-size:10px;">5400</text>
<line x1="624" x2="877" y1="464.20" y2="464.20" stroke="#D9D9D9" stroke-width="1"/>
<text x="615.5" y="467.8" text-anchor="end" fill="#454B55" style="font-family:'Liberation Sans', Arial, sans-serif;font-size:10px;">4900</text>
<line x1="624" x2="877" y1="495.90" y2="495.90" stroke="#D9D9D9" stroke-width="1"/>
<text x="615.5" y="499.5" text-anchor="end" fill="#454B55" style="font-family:'Liberation Sans', Arial, sans-serif;font-size:10px;">4400</text>
<line x1="624" x2="877" y1="527.60" y2="527.60" stroke="#D9D9D9" stroke-width="1"/>
<text x="615.5" y="531.2" text-anchor="end" fill="#454B55" style="font-family:'Liberation Sans', Arial, sans-serif;font-size:10px;">3900</text>
<line x1="624" x2="877" y1="559.30" y2="559.30" stroke="#D9D9D9" stroke-width="1"/>
<text x="615.5" y="562.9" text-anchor="end" fill="#454B55" style="font-family:'Liberation Sans', Arial, sans-serif;font-size:10px;">3400</text>
<text transform="translate(589.5,495.5) rotate(-90)" text-anchor="middle" fill="#454B55" style="font-family:'Liberation Sans', Arial, sans-serif;font-size:10px;">US$/t carcasa</text>
<text x="624.8" y="578" text-anchor="middle" fill="#454B55" style="font-family:'Liberation Sans', Arial, sans-serif;font-size:11.5px;">J</text>
<text x="647.1" y="578" text-anchor="middle" fill="#454B55" style="font-family:'Liberation Sans', Arial, sans-serif;font-size:11.5px;">F</text>
<text x="666" y="578" text-anchor="middle" fill="#454B55" style="font-family:'Liberation Sans', Arial, sans-serif;font-size:11.5px;">M</text>
<text x="688.4" y="578" text-anchor="middle" fill="#454B55" style="font-family:'Liberation Sans', Arial, sans-serif;font-size:11.5px;">A</text>
<text x="708.9" y="578" text-anchor="middle" fill="#454B55" style="font-family:'Liberation Sans', Arial, sans-serif;font-size:11.5px;">M</text>
<text x="730" y="578" text-anchor="middle" fill="#454B55" style="font-family:'Liberation Sans', Arial, sans-serif;font-size:11.5px;">J</text>
<text x="751.7" y="578" text-anchor="middle" fill="#454B55" style="font-family:'Liberation Sans', Arial, sans-serif;font-size:11.5px;">J</text>
<text x="774.4" y="578" text-anchor="middle" fill="#454B55" style="font-family:'Liberation Sans', Arial, sans-serif;font-size:11.5px;">A</text>
<text x="795.8" y="578" text-anchor="middle" fill="#454B55" style="font-family:'Liberation Sans', Arial, sans-serif;font-size:11.5px;">S</text>
<text x="816.9" y="578" text-anchor="middle" fill="#454B55" style="font-family:'Liberation Sans', Arial, sans-serif;font-size:11.5px;">O</text>
<text x="839" y="578" text-anchor="middle" fill="#454B55" style="font-family:'Liberation Sans', Arial, sans-serif;font-size:11.5px;">N</text>
<text x="860" y="578" text-anchor="middle" fill="#454B55" style="font-family:'Liberation Sans', Arial, sans-serif;font-size:11.5px;">D</text>
<text x="585" y="589" text-anchor="start" fill="#454B55" style="font-family:'Liberation Sans', Arial, sans-serif;font-size:9.8px;">Source: INAC</text>
<rect x="895" y="593" width="1" height="3" fill="#4B3B50"/>
<polyline points="624.00,534.80 628.95,524.30 633.90,526.00 638.85,526.20 643.80,530.00 648.75,523.10 653.70,519.00 658.65,510.80 663.60,502.70 668.55,502.70 673.50,510.80 678.45,521.30 683.40,524.80 688.35,522.50 693.30,521.30 698.25,521.50 703.20,529.50 708.15,524.80 713.10,520.20 718.05,513.20 723.00,505.00 727.95,502.10 732.90,495.90 737.85,509.70 742.80,517.80 747.75,521.30 752.70,523.10 757.65,509.10 762.60,506.75 767.55,509.10 772.50,515.00 777.45,520.90 782.40,511.00 787.35,503.00 792.30,490.00 797.25,502.80 802.20,505.20 807.15,513.30 812.10,498.75 817.05,507.50 822.00,495.25 826.95,502.25 831.90,487.70 836.85,487.70 841.80,483.00 846.75,482.40 851.70,470.00 856.65,480.00 861.60,486.50 866.55,495.50 871.50,483.50 876.45,477.00" fill="none" stroke="#EFC8A0" stroke-width="3" stroke-linejoin="round" shape-rendering="geometricPrecision"/>
<polyline points="624.00,485.00 628.95,475.50 633.90,478.00 638.85,479.50 643.80,473.80 648.75,479.30 653.70,485.00 658.65,477.00 663.60,471.00 668.55,462.80 673.50,473.00 678.45,478.50 683.40,478.00 688.35,476.00 693.30,474.80 698.25,477.50 703.20,469.00 708.15,462.50 713.10,457.00 718.05,457.50 723.00,452.50 727.95,446.00 732.90,456.50 737.85,464.00 742.80,469.50 747.75,465.50 752.70,456.00 757.65,460.50 762.60,447.00" fill="none" stroke="#3D1A12" stroke-width="3.2" stroke-linejoin="round" shape-rendering="geometricPrecision"/>
<line x1="753" x2="780" y1="551.5" y2="551.5" stroke="#3D1A12" stroke-width="1.2"/>
<rect x="765.5" y="550" width="2" height="3" fill="#3D1A12"/>
<text x="782" y="553.5" text-anchor="start" fill="#454B55" style="font-family:'Liberation Sans', Arial, sans-serif;font-size:6px;">2024</text>
<line x1="816" x2="843" y1="551.5" y2="551.5" stroke="#EFC8A0" stroke-width="1.2"/>
<text x="845" y="553.5" text-anchor="start" fill="#454B55" style="font-family:'Liberation Sans', Arial, sans-serif;font-size:6px;">2023</text>
</svg></body></html>
